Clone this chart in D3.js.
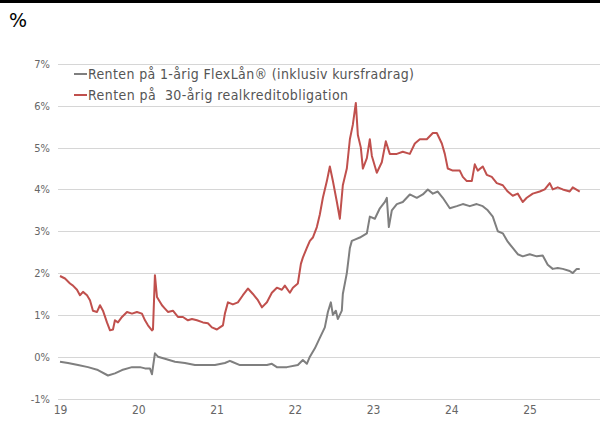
<!DOCTYPE html>
<html><head><meta charset="utf-8">
<script src="https://cdn.jsdelivr.net/npm/d3@7"></script>
<style>body{margin:0;background:#fff}svg{display:block}</style>
</head><body><svg id="c" width="600" height="435"></svg>
<script>
const seriesNames = ["Renten på 1-årig FlexLån® (inklusiv kursfradrag)", "Renten på  30-årig realkreditobligation"];
const seriesColors = ["#7f7f7f", "#c0504d"];
const yTicks = [-1,0,1,2,3,4,5,6,7];
const xTicks = [2019,2020,2021,2022,2023,2024,2025];
const xTickLabels = ["19","20","21","22","23","24","25"];
// decimal year, percent
const flexT = [2019.000,2019.102,2019.230,2019.358,2019.485,2019.613,2019.702,2019.792,2019.920,2020.022,2020.086,2020.149,2020.175,2020.213,2020.252,2020.341,2020.469,2020.596,2020.724,2020.852,2020.980,2021.107,2021.171,2021.197,2021.299,2021.465,2021.644,2021.707,2021.771,2021.899,2022.039,2022.103,2022.154,2022.193,2022.257,2022.320,2022.384,2022.423,2022.461,2022.487,2022.525,2022.550,2022.601,2022.614,2022.665,2022.704,2022.729,2022.767,2022.831,2022.921,2022.959,2023.023,2023.087,2023.151,2023.176,2023.202,2023.240,2023.304,2023.380,2023.470,2023.559,2023.636,2023.700,2023.764,2023.827,2023.891,2023.981,2024.070,2024.147,2024.236,2024.325,2024.402,2024.466,2024.530,2024.594,2024.658,2024.721,2024.785,2024.849,2024.913,2025.002,2025.092,2025.168,2025.232,2025.296,2025.360,2025.424,2025.513,2025.552,2025.603,2025.641];
const flexV = [-0.12,-0.15,-0.20,-0.25,-0.32,-0.45,-0.40,-0.32,-0.25,-0.25,-0.28,-0.28,-0.42,0.08,0.00,-0.05,-0.12,-0.15,-0.20,-0.20,-0.20,-0.15,-0.10,-0.12,-0.20,-0.20,-0.20,-0.17,-0.25,-0.25,-0.20,-0.08,-0.17,0.00,0.20,0.45,0.70,1.07,1.30,1.00,1.10,0.90,1.10,1.50,2.00,2.60,2.77,2.80,2.85,2.95,3.35,3.30,3.55,3.70,3.80,3.10,3.50,3.65,3.70,3.88,3.80,3.88,4.00,3.90,3.95,3.80,3.55,3.60,3.65,3.60,3.65,3.60,3.50,3.35,3.00,2.95,2.75,2.60,2.45,2.40,2.45,2.40,2.42,2.20,2.10,2.12,2.10,2.05,2.00,2.10,2.10];
const bondT = [2019.000,2019.064,2019.128,2019.166,2019.217,2019.255,2019.294,2019.345,2019.383,2019.421,2019.473,2019.511,2019.549,2019.600,2019.639,2019.677,2019.702,2019.741,2019.792,2019.856,2019.920,2019.983,2020.047,2020.086,2020.124,2020.175,2020.188,2020.213,2020.239,2020.264,2020.303,2020.341,2020.379,2020.443,2020.507,2020.571,2020.635,2020.686,2020.750,2020.826,2020.890,2020.941,2021.005,2021.043,2021.082,2021.107,2021.146,2021.209,2021.273,2021.337,2021.401,2021.465,2021.529,2021.580,2021.644,2021.707,2021.771,2021.835,2021.873,2021.937,2021.976,2022.039,2022.078,2022.103,2022.154,2022.193,2022.231,2022.282,2022.320,2022.359,2022.410,2022.448,2022.487,2022.538,2022.576,2022.614,2022.665,2022.704,2022.742,2022.780,2022.806,2022.844,2022.870,2022.921,2022.959,2022.985,2023.048,2023.112,2023.163,2023.214,2023.304,2023.380,2023.470,2023.534,2023.598,2023.687,2023.764,2023.815,2023.879,2023.917,2023.955,2024.019,2024.108,2024.147,2024.198,2024.262,2024.300,2024.338,2024.402,2024.453,2024.517,2024.581,2024.658,2024.721,2024.785,2024.849,2024.913,2024.964,2025.041,2025.130,2025.194,2025.258,2025.296,2025.360,2025.424,2025.513,2025.552,2025.641];
const bondV = [1.93,1.87,1.75,1.70,1.60,1.47,1.55,1.47,1.35,1.10,1.07,1.23,1.10,0.82,0.63,0.65,0.87,0.82,0.95,1.07,1.03,1.07,1.03,0.87,0.75,0.63,0.65,1.95,1.43,1.35,1.23,1.15,1.07,1.10,0.95,0.95,0.87,0.90,0.87,0.82,0.80,0.70,0.65,0.70,0.75,1.03,1.30,1.25,1.30,1.47,1.63,1.50,1.35,1.18,1.30,1.53,1.65,1.60,1.70,1.53,1.65,1.75,2.22,2.37,2.60,2.77,2.85,3.10,3.40,3.80,4.20,4.55,4.20,3.70,3.30,4.10,4.50,5.20,5.55,6.07,5.30,5.00,4.50,4.75,5.20,4.80,4.40,4.65,5.15,4.85,4.85,4.90,4.85,5.10,5.20,5.20,5.35,5.35,5.10,4.85,4.50,4.45,4.45,4.30,4.20,4.20,4.60,4.45,4.55,4.35,4.30,4.15,4.10,3.95,3.85,3.90,3.70,3.80,3.90,3.95,4.00,4.15,4.00,4.05,4.00,3.95,4.05,3.95];

const svg = d3.select("#c");
const font = "'DejaVu Sans Condensed', 'DejaVu Sans', sans-serif";
const x = d3.scaleLinear().domain([2019, 2025.9]).range([60, 600]);
const y = d3.scaleLinear().domain([-1, 7]).range([398.5, 64]);

svg.append("rect").attr("x",0).attr("y",0).attr("width",600).attr("height",3).attr("fill","#000");
svg.append("text").attr("x",9).attr("y",27).attr("font-family","'DejaVu Sans', sans-serif").attr("font-size",19).attr("fill","#000").text("%");

const grid = svg.append("g");
grid.selectAll("line").data(yTicks).join("line")
  .attr("x1",58).attr("x2",600).attr("y1",d=>Math.round(y(d))+0.5).attr("y2",d=>Math.round(y(d))+0.5)
  .attr("stroke","#d6d6d6").attr("stroke-width",1);

const yAxis = d3.axisLeft(y).tickValues(yTicks).tickFormat(d=>d+"%").tickSize(0).tickPadding(0);
const ya = svg.append("g").attr("transform","translate(50,0)").call(yAxis);
ya.select(".domain").remove();
ya.selectAll("text").attr("font-family",font).attr("font-size",11).attr("fill","#666");

const xAxis = d3.axisBottom(x).tickValues(xTicks).tickFormat((d,i)=>xTickLabels[i]).tickSize(0).tickPadding(0);
const xa = svg.append("g").attr("transform","translate(0,405)").call(xAxis);
xa.select(".domain").remove();
xa.selectAll("text").attr("font-family",font).attr("font-size",12).attr("fill","#666");

const line = d3.line().x(d=>x(d[0])).y(d=>y(d[1]));
const flex = flexT.map((t,i)=>[t,flexV[i]]);
const bond = bondT.map((t,i)=>[t,bondV[i]]);
svg.append("path").datum(flex).attr("d",line).attr("fill","none").attr("stroke",seriesColors[0]).attr("stroke-width",2).attr("stroke-linejoin","round");
svg.append("path").datum(bond).attr("d",line).attr("fill","none").attr("stroke",seriesColors[1]).attr("stroke-width",2).attr("stroke-linejoin","round");

const legendWidths = [326, 260];
const lg = svg.append("g");
seriesNames.forEach((n,i)=>{
  const yy = 74 + i*21;
  lg.append("line").attr("x1",74).attr("x2",87).attr("y1",yy).attr("y2",yy).attr("stroke",seriesColors[i]).attr("stroke-width",2);
  const t = lg.append("text").attr("x",88).attr("y",yy+5).attr("font-family",font).attr("font-size",14).attr("fill","#555").style("white-space","pre").text(n);
  const w = t.node().getComputedTextLength();
  if (Math.abs(w - legendWidths[i]) > 3) t.attr("textLength", legendWidths[i]).attr("lengthAdjust","spacing");
});
</script></body></html>
